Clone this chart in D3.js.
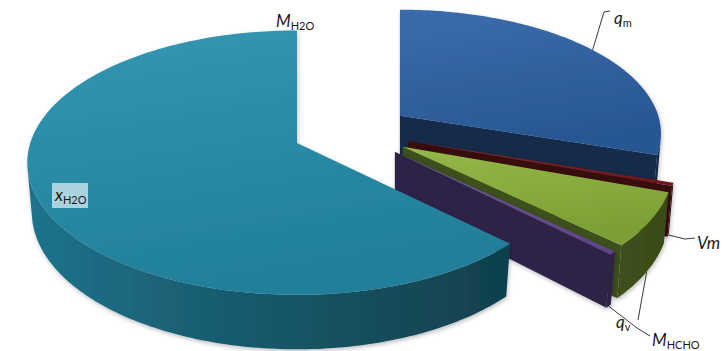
<!DOCTYPE html>
<html>
<head>
<meta charset="utf-8">
<script src="https://cdn.jsdelivr.net/npm/d3@7"></script>
<style>
  html, body { margin: 0; background: #ffffff; }
  svg { display: block; }
</style>
</head>
<body>
<svg id="chart" width="725" height="351"></svg>
<script>
// ---- data -------------------------------------------------------------
const categories = ["q_m", "Vm", "q_v", "M_HCHO", "x_H2O", "M_H2O"];
const values     = [30.0, 0.4, 6.5, 0.4, 62.695, 0.005];   // percent share
const explodes   = [0.223, 0.223, 0.223, 0.223, 0.223, 0];  // explode, in radii
const labelMain  = ["q", "Vm", "q", "M", "x", "M"];
const labelSub   = ["m", "", "v", "HCHO", "H2O", "H2O"];

// ---- look -------------------------------------------------------------
const colors = ["#2E63A7", "#7E1C1C", "#8DB53C", "#6B4E9E", "#2690AE", "#E46C0A"];
const color = d3.scaleOrdinal().domain(categories).range(colors);

// tilted 3-D pie: unit radius, y up, z toward the viewer
const view = {
  cx: 351.8, cy: 131.9,       // screen position of the pie centre
  focal: 1600, focalX: 1580,  // vertical / horizontal lens
  dist: 6, tilt: 28.2 * Math.PI / 180, depth: 0.21
};
const sT = Math.sin(view.tilt), cT = Math.cos(view.tilt);
const kx = view.focal / view.dist;
// each slice keeps its own radial edges upright: horizontal perspective
// is applied around the slice's (exploded) apex
function projector(ox) {
  return (X, Y, Z) => {
    const d = view.dist - (Y * sT + Z * cT);
    const v = Y * cT - Z * sT;
    return [view.cx + kx * ox + view.focalX * (X - ox) / d, view.cy - view.focal * v / d];
  };
}
const L = (() => { const v = [-1, 0, 0.2], n = Math.hypot(...v); return v.map(c => c / n); })();
const shade = (base, k) => { const c = d3.rgb(base); return d3.rgb(c.r * k, c.g * k, c.b * k).formatHex(); };
const wallLight = b => 0.4 + 0.4 * Math.pow((Math.sin(b) * L[0] - Math.cos(b) * L[2] + 1) / 2, 1.5);
const signedArea = pts => d3.polygonArea(pts);

// label placement (text baselines) and leader elbows
const labelLayout = {
  q_m:    { x: 614, y: 24,  anchor: "top",    leader: [[604, 12], [610, 11]] },
  Vm:     { x: 697, y: 249, anchor: "bottom", leader: [[685, 239], [695, 238]] },
  q_v:    { x: 616, y: 328, anchor: "bottom", leader: [[638, 320]] },
  M_HCHO: { x: 652, y: 346, anchor: "bottom", leader: [[637, 328], [650, 336]] },
  x_H2O:  { x: 55,  y: 201, box: [52, 183, 36, 25] },
  M_H2O:  { x: 276, y: 27 }
};

// ---- geometry ---------------------------------------------------------
const pie = d3.pie().sort(null).value(d => d.value);
const rows = categories.map((c, i) => ({ cat: c, value: values[i], explode: explodes[i], i }));
const arcs = pie(rows);

const svg = d3.select("#chart");
const defs = svg.append("defs");
const flt = defs.append("filter").attr("id", "soft")
  .attr("x", "-10%").attr("y", "-10%").attr("width", "125%").attr("height", "135%");
flt.append("feDropShadow").attr("dx", 1).attr("dy", 2).attr("stdDeviation", 2.2)
  .attr("flood-color", "#000").attr("flood-opacity", 0.25);

const polygon = d3.line().curve(d3.curveLinearClosed);

function sliceGeom(a) {
  const mid = (a.startAngle + a.endAngle) / 2;
  const ox = a.data.explode * Math.sin(mid), oz = -a.data.explode * Math.cos(mid);
  const rim = (b, Y) => [ox + Math.sin(b), Y, oz - Math.cos(b)];
  return { mid, ox, oz, rim, proj: projector(ox) };
}

// back-to-front: slices holding the front direction go last
const order = arcs.slice().sort((a, b) => {
  const key = s => {
    const holdsFront = s.startAngle <= Math.PI && s.endAngle >= Math.PI;
    return holdsFront ? 1e9 : -Math.abs((s.startAngle + s.endAngle) / 2 - Math.PI);
  };
  return key(a) - key(b);
});

const H = -view.depth;
order.forEach(a => {
  const base = color(a.data.cat);
  const { ox, oz, rim, proj } = sliceGeom(a);
  const n = Math.max(2, Math.ceil((a.endAngle - a.startAngle) / (Math.PI / 180)));
  const angs = d3.range(n + 1).map(k => a.startAngle + (a.endAngle - a.startAngle) * k / n);
  const topPts = [proj(ox, 0, oz)].concat(angs.map(b => proj(...rim(b, 0))));
  // a slice whose rim is narrower than a pixel leaves nothing to paint
  const p0 = proj(...rim(a.startAngle, 0)), p1 = proj(...rim(a.endAngle, 0));
  if (Math.hypot(p1[0] - p0[0], p1[1] - p0[1]) < 0.5) return;

  const g = svg.append("g").attr("filter", "url(#soft)");

  // outer wall: visible runs, each one path with a lit horizontal gradient
  const vis = d3.range(n).map(k => {
    const q = [proj(...rim(angs[k], 0)), proj(...rim(angs[k + 1], 0)),
               proj(...rim(angs[k + 1], H)), proj(...rim(angs[k], H))];
    return signedArea(q) > 0.01;
  });
  const runs = [];
  vis.forEach((on, k) => {
    if (!on) return;
    if (runs.length && runs[runs.length - 1][1] === k) runs[runs.length - 1][1] = k + 1;
    else runs.push([k, k + 1]);
  });
  runs.forEach((r, ri) => {
    const bs = angs.slice(r[0], r[1] + 1);
    const topE = bs.map(b => proj(...rim(b, 0)));
    const botE = bs.map(b => proj(...rim(b, H))).reverse();
    const xs = topE.map(p => p[0]);
    const x0 = d3.min(xs), x1 = d3.max(xs);
    const sx = d3.scaleLinear().domain([x0, x1 === x0 ? x0 + 1 : x1]).range([0, 1]);
    const wid = `wall${a.data.i}_${ri}`;
    const wg = defs.append("linearGradient").attr("id", wid)
      .attr("gradientUnits", "userSpaceOnUse")
      .attr("x1", x0).attr("y1", 0).attr("x2", x1 === x0 ? x0 + 1 : x1).attr("y2", 0);
    bs.map((b, k) => ({ off: sx(xs[k]), col: shade(base, wallLight(b)) }))
      .sort((p, q) => p.off - q.off)
      .forEach(s => wg.append("stop").attr("offset", s.off).attr("stop-color", s.col));
    g.append("path").attr("d", polygon(topE.concat(botE))).attr("fill", `url(#${wid})`);
  });

  // radial cut faces (start face seen when wound one way, end face the other)
  [[a.startAngle, -1], [a.endAngle, 1]].forEach(([b, side]) => {
    const q = [proj(ox, 0, oz), proj(...rim(b, 0)), proj(...rim(b, H)), proj(ox, H, oz)];
    if (side * signedArea(q) < -0.5) {
      g.append("path").attr("d", polygon(q)).attr("fill", shade(base, 0.44));
    }
  });

  // top face
  const gid = "top" + a.data.i;
  const grad = defs.append("linearGradient").attr("id", gid)
    .attr("x1", 0).attr("y1", 0).attr("x2", 0.3).attr("y2", 1);
  grad.append("stop").attr("offset", "0%").attr("stop-color", d3.interpolateRgb(base, "#ffffff")(0.06));
  grad.append("stop").attr("offset", "100%").attr("stop-color", shade(base, 0.88));
  g.append("path").attr("d", polygon(topPts)).attr("fill", `url(#${gid})`);
});

// ---- labels -----------------------------------------------------------
const font = "Lato, 'Open Sans', 'DejaVu Sans', sans-serif";
const labels = svg.append("g").attr("font-family", font).attr("fill", "#1a1a1a");

arcs.forEach(a => {
  const cat = a.data.cat, i = a.data.i, lay = labelLayout[cat];
  if (!lay) return;
  if (lay.leader) {
    const { mid, rim, proj } = sliceGeom(a);
    const start = proj(...rim(mid, lay.anchor === "top" ? 0 : H));
    labels.append("path")
      .attr("d", d3.line()([start].concat(lay.leader)))
      .attr("fill", "none").attr("stroke", "#3a3a3a").attr("stroke-width", 1);
  }
  if (lay.box) {
    labels.append("rect").attr("x", lay.box[0]).attr("y", lay.box[1])
      .attr("width", lay.box[2]).attr("height", lay.box[3])
      .attr("fill", "#B4D9E3").attr("opacity", 0.92);
  }
  const t = labels.append("text").attr("x", lay.x).attr("y", lay.y).attr("font-size", 17);
  t.append("tspan").attr("font-style", "italic").text(labelMain[i]);
  if (labelSub[i]) {
    t.append("tspan").attr("dy", 3).attr("font-size", 11).text(labelSub[i]);
  }
});
</script>
</body>
</html>
